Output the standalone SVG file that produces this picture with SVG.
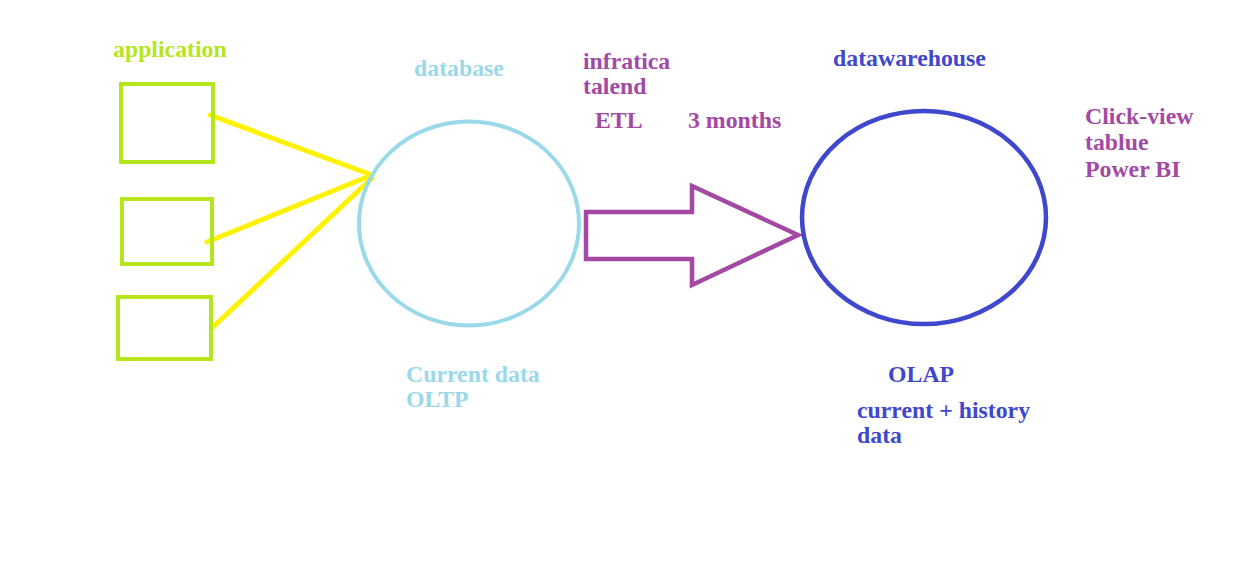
<svg xmlns="http://www.w3.org/2000/svg" width="1235" height="570" viewBox="0 0 1235 570">
<style>
text{font-family:"Liberation Serif","Times New Roman",serif;font-weight:bold;font-size:23.8px}
.g{fill:#b5e61d}.lb{fill:#99d9ea}.p{fill:#a349a4}.b{fill:#3f48cc}
.box{fill:none;stroke:#b5e61d;stroke-width:4}
</style>
<rect width="1235" height="570" fill="#ffffff"/>
<g id="connectors" stroke="#fff200" stroke-width="5" stroke-linecap="round" fill="none">
<line x1="210" y1="115" x2="372" y2="175"/>
<line x1="207" y1="242" x2="372" y2="175"/>
<line x1="213" y1="327" x2="372" y2="178"/>
</g>
<g id="application">
<text class="g" x="113" y="57">application</text>
<rect class="box" x="121" y="84" width="92" height="78"/>
<rect class="box" x="122" y="199" width="90" height="65"/>
<rect class="box" x="118" y="297" width="93" height="62"/>
</g>
<g id="database">
<text class="lb" x="414" y="76">database</text>
<ellipse cx="469" cy="223.5" rx="110" ry="102" fill="none" stroke="#99d9ea" stroke-width="4"/>
<text class="lb" x="406" y="382">Current data</text>
<text class="lb" x="406" y="407">OLTP</text>
</g>
<g id="etl">
<text class="p" x="583" y="69">infratica</text>
<text class="p" x="583" y="94">talend</text>
<text class="p" x="595" y="128">ETL</text>
<text class="p" x="688" y="128">3 months</text>
<polygon points="586,212 692,212 692,186 798,235 692,285 692,259 586,259" fill="none" stroke="#a349a4" stroke-width="4.5" stroke-linejoin="miter"/>
</g>
<g id="datawarehouse">
<text class="b" x="833" y="66">datawarehouse</text>
<ellipse cx="924" cy="217.5" rx="122" ry="106.5" fill="none" stroke="#3f48cc" stroke-width="4.5"/>
<text class="b" x="888" y="382">OLAP</text>
<text class="b" x="857" y="418">current + history</text>
<text class="b" x="857" y="443">data</text>
</g>
<g id="tools">
<text class="p" x="1085" y="124">Click-view</text>
<text class="p" x="1085" y="150">tablue</text>
<text class="p" x="1085" y="177">Power BI</text>
</g>
</svg>
